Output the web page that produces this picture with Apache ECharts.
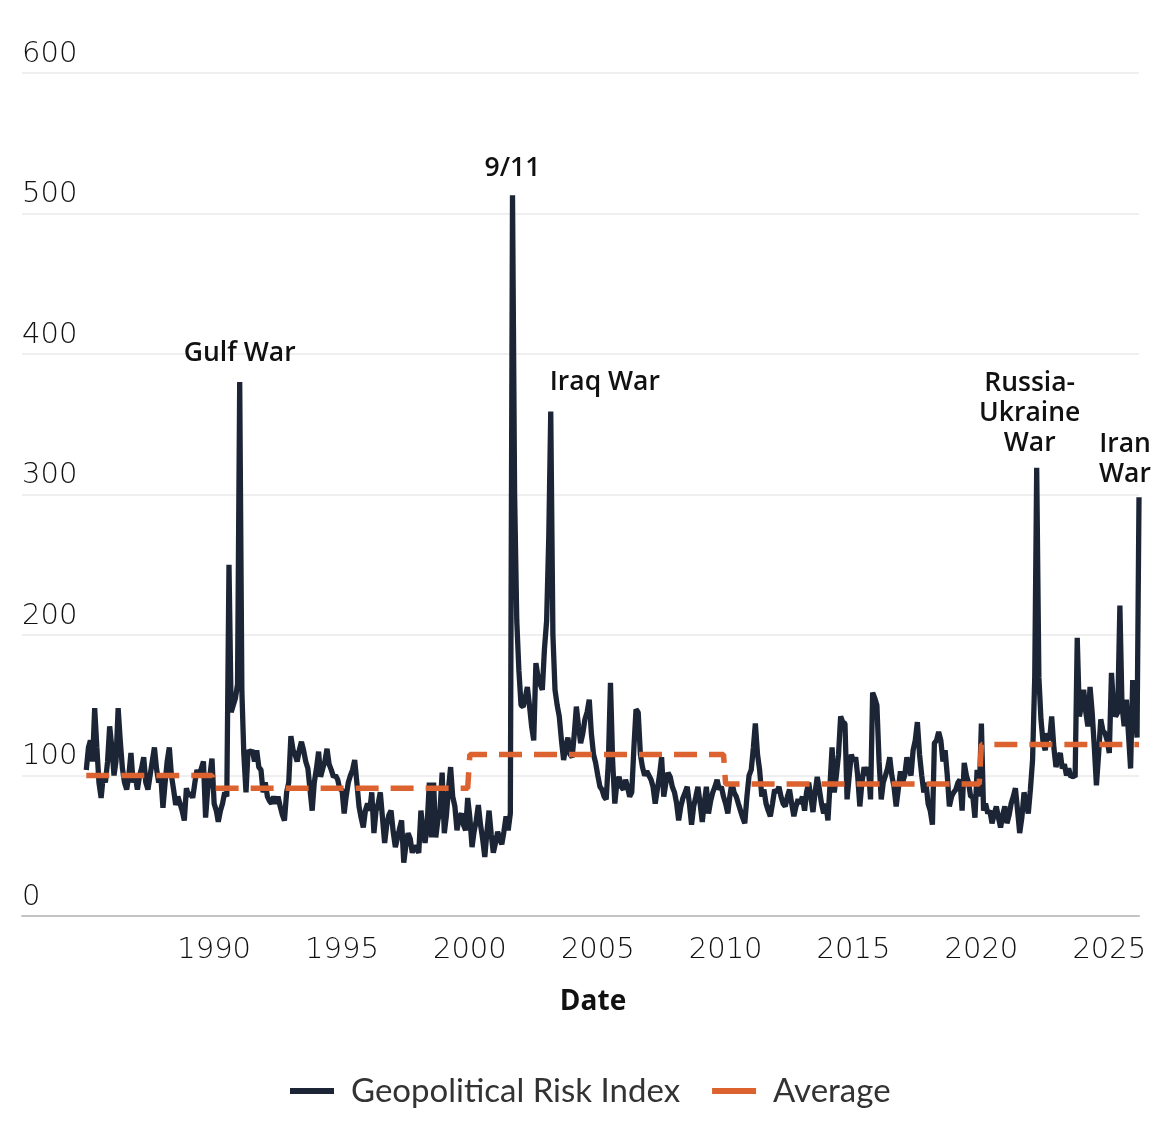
<!DOCTYPE html>
<html>
<head>
<meta charset="utf-8">
<script src="https://cdn.jsdelivr.net/npm/echarts@6/dist/echarts.min.js"></script>
<style>
  html, body { margin: 0; padding: 0; background: #fff; }
  #chart { width: 1170px; height: 1136px; }
</style>
</head>
<body>
<div id="chart"></div>
<script>
// monthly Geopolitical Risk Index, Jan 1985 .. Mar 2026
var startYear = 1985;
var gprIndex = [
  104, 120, 125, 110, 148, 120, 95, 84, 100, 95, 110, 135,     // 1985
  120, 100, 110, 148, 125, 105, 95, 90, 100, 116, 95, 100,     // 1986
  90, 100, 105, 113, 95, 90, 100, 110, 120, 105, 95, 100,      // 1987
  77, 95, 110, 120, 100, 90, 79, 85, 80, 75, 68, 91,           // 1988
  85, 88, 84, 95, 104, 100, 105, 110, 70, 90, 100, 112,        // 1989
  80, 75, 67, 75, 80, 88, 85, 250, 145, 150, 155, 165,         // 1990
  380, 160, 115, 88, 118, 116, 118, 110, 118, 106, 104, 88,    // 1991
  95, 85, 82, 80, 85, 80, 85, 78, 72, 68, 88, 95,              // 1992
  128, 118, 115, 110, 118, 124, 118, 110, 105, 90, 75, 95,     // 1993
  105, 117, 99, 105, 110, 119, 108, 104, 99, 100, 97, 90,      // 1994
  90, 73, 85, 95, 100, 104, 111, 95, 78, 70, 63, 75,           // 1995
  80, 75, 88, 59, 75, 80, 88, 70, 52, 65, 72, 75,              // 1996
  60, 49, 55, 62, 68, 38, 50, 59, 55, 45, 50, 48,              // 1997
  45, 75, 62, 52, 65, 95, 56, 95, 56, 68, 75, 102,             // 1998
  59, 72, 90, 106, 85, 78, 61, 70, 73, 65, 61, 84,             // 1999
  70, 49, 60, 68, 79, 65, 55, 42, 60, 75, 58, 45,              // 2000
  52, 60, 55, 51, 60, 71, 61, 73, 513, 300, 210, 175,          // 2001
  150, 149, 155, 163, 150, 135, 125, 180, 170, 165, 161, 190,  // 2002
  210, 270, 359, 200, 161, 150, 142, 125, 111, 120, 127, 115,  // 2003
  113, 130, 149, 135, 123, 130, 140, 145, 154, 130, 115, 109,  // 2004
  100, 92, 90, 85, 83, 110, 166, 110, 80, 95, 99, 92,          // 2005
  90, 97, 92, 85, 88, 120, 147, 145, 115, 106, 100, 103,       // 2006
  100, 97, 92, 80, 90, 100, 113, 85, 95, 102, 99, 92,          // 2007
  88, 80, 68, 78, 84, 88, 92, 80, 65, 78, 85, 92,              // 2008
  80, 67, 80, 92, 73, 82, 88, 92, 97, 90, 92, 85,              // 2009
  80, 73, 85, 95, 88, 85, 80, 75, 70, 66, 85, 100,             // 2010
  104, 120, 137, 115, 104, 85, 90, 80, 75, 71, 80, 90,         // 2011
  88, 92, 85, 80, 78, 85, 90, 80, 71, 78, 83, 80,              // 2012
  85, 75, 88, 95, 85, 74, 88, 99, 90, 80, 73, 80,              // 2013
  68, 95, 120, 88, 100, 115, 142, 138, 137, 83, 100, 115,      // 2014
  110, 113, 100, 78, 95, 106, 100, 106, 83, 159, 155, 150,     // 2015
  110, 83, 95, 100, 105, 113, 100, 92, 78, 90, 103, 95,        // 2016
  100, 113, 105, 100, 118, 125, 138, 115, 100, 88, 95, 80,     // 2017
  75, 65, 123, 125, 131, 125, 110, 118, 100, 78, 85, 88,       // 2018
  90, 95, 97, 75, 109, 100, 95, 85, 85, 70, 104, 85,           // 2019
  137, 75, 80, 73, 75, 66, 72, 78, 70, 63, 72, 78,             // 2020
  66, 72, 80, 85, 91, 75, 59, 70, 88, 80, 73, 90,              // 2021
  111, 170, 319, 170, 140, 123, 118, 130, 125, 142, 120, 106,  // 2022
  112, 116, 105, 108, 100, 105, 99, 100, 99, 198, 142, 150,    // 2023
  161, 145, 135, 163, 145, 120, 93, 115, 140, 132, 130, 125,   // 2024
  116, 173, 150, 142, 145, 221, 150, 135, 154, 130, 105, 168,  // 2025
  150, 127, 298                                                // 2026
];

// average per period: [first month, last month], value
var periodStarts = ['1985-01', '1990-01', '2000-01', '2010-01', '2020-01'];
var periodEnds = ['1989-12', '1999-12', '2009-12', '2019-12', '2026-03'];
var periodAverages = [100, 91, 115, 94, 122];

// annotated events
var eventLabels = ['Gulf War', '9/11', 'Iraq War', 'Russia-\nUkraine\nWar', 'Iran\nWar'];
var eventMonths = ['1991-01', '2001-09', '2003-03', '2022-03', '2026-03'];
var eventValues = [380, 513, 359, 319, 298];

var tickYears = [1990, 1995, 2000, 2005, 2010, 2015, 2020, 2025];

function monthTime(ym) {
  var p = ym.split('-');
  return new Date(+p[0], +p[1] - 1, 1).getTime();
}

var gprData = gprIndex.map(function (v, i) {
  return [new Date(startYear, i, 1).getTime(), v];
});

var avgData = [];
periodAverages.forEach(function (v, i) {
  avgData.push([monthTime(periodStarts[i]), v]);
  avgData.push([monthTime(periodEnds[i]), v]);
});

// label nudges (px) for each event label
var labelNudge = [
  { offset: [0, -14], align: 'center' },
  { offset: [0, -12], align: 'center' },
  { offset: [-1, -14], align: 'left' },
  { offset: [-7, -9], align: 'center' },
  { offset: [-14, -8], align: 'center' }
];

var eventPoints = eventLabels.map(function (name, i) {
  return {
    name: name,
    coord: [monthTime(eventMonths[i]), eventValues[i]],
    value: eventValues[i],
    label: {
      offset: labelNudge[i].offset,
      align: labelNudge[i].align
    }
  };
});

var tickFont = { fontFamily: 'DejaVu Sans', fontSize: 29, fontWeight: 300, color: '#111' };

var chart = echarts.init(document.getElementById('chart'));

var option = {
  animation: false,
  backgroundColor: '#ffffff',
  textStyle: { fontFamily: 'Lato' },
  grid: { left: 22, right: 31, top: 73, bottom: 220 },
  legend: {
    data: ['Geopolitical Risk Index', 'Average'],
    left: 290,
    top: 1074,
    padding: 0,
    icon: 'rect',
    itemWidth: 44,
    itemHeight: 6,
    itemGap: 32,
    textStyle: { fontFamily: 'Lato', fontSize: 33, color: '#333', lineHeight: 34, padding: [0, 0, 0, 12] }
  },
  xAxis: {
    type: 'value',
    min: new Date(1982, 5, 28).getTime(),
    max: monthTime('2026-03'),
    name: 'Date',
    nameLocation: 'middle',
    nameGap: 72,
    nameTextStyle: { fontFamily: 'Open Sans', fontSize: 28, fontWeight: 'bold', color: '#111', padding: [0, 0, 0, 25] },
    axisLine: { lineStyle: { color: '#c4c4c4', width: 2 } },
    axisTick: { show: false },
    splitLine: { show: false },
    axisLabel: Object.assign({
      customValues: tickYears.map(function (y) { return new Date(y, 0, 1).getTime(); }),
      formatter: function (v) { return String(new Date(v).getFullYear()); },
      margin: 20
    }, tickFont)
  },
  yAxis: {
    type: 'value',
    min: 0,
    max: 600,
    interval: 100,
    axisLine: { show: false },
    axisTick: { show: false },
    splitLine: { lineStyle: { color: '#efefef', width: 2 } },
    axisLabel: Object.assign({
      inside: true,
      align: 'left',
      verticalAlign: 'bottom',
      margin: 0,
      padding: [0, 0, 4, 0],
      lineHeight: 30
    }, tickFont)
  },
  series: [
    {
      name: 'Geopolitical Risk Index',
      type: 'line',
      data: gprData,
      showSymbol: false,
      lineStyle: { color: '#1c2535', width: 5.3 },
      itemStyle: { color: '#1c2535' },
      markPoint: {
        symbol: 'circle',
        symbolSize: 0,
        silent: true,
        label: {
          show: true,
          position: 'top',
          distance: 0,
          verticalAlign: 'bottom',
          formatter: '{b}',
          fontFamily: 'Open Sans',
          fontSize: 26.5,
          fontWeight: 600,
          lineHeight: 30,
          color: '#111'
        },
        data: eventPoints
      }
    },
    {
      name: 'Average',
      type: 'line',
      data: avgData,
      showSymbol: false,
      lineStyle: { color: '#dc6230', width: 5.5, type: [23, 12] },
      itemStyle: { color: '#dc6230' }
    }
  ]
};

chart.setOption(option);
</script>
</body>
</html>
